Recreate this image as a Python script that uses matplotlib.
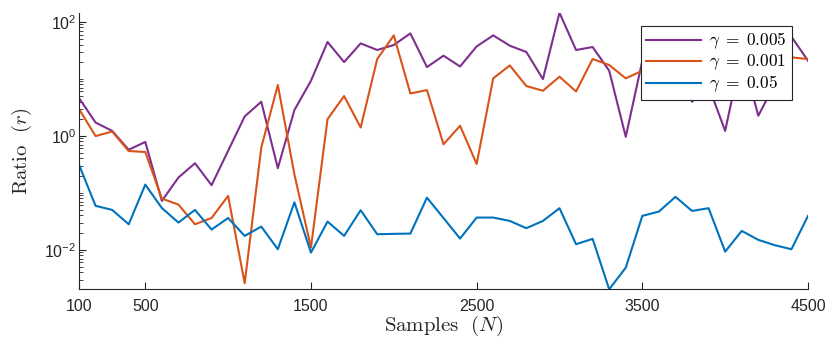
import numpy as np
import matplotlib
matplotlib.use("Agg")
import matplotlib.pyplot as plt
from matplotlib.ticker import FixedLocator, FuncFormatter, NullLocator, NullFormatter

plt.rcParams['mathtext.fontset'] = 'cm'
plt.rcParams['font.family'] = ['Liberation Sans', 'DejaVu Sans']

samples = [100, 200, 300, 400, 500, 600, 700, 800, 900, 1000,
           1100, 1200, 1300, 1400, 1500, 1600, 1700, 1800, 1900, 2000,
           2100, 2200, 2300, 2400, 2500, 2600, 2700, 2800, 2900, 3000,
           3100, 3200, 3300, 3400, 3500, 3600, 3700, 3800, 3900, 4000,
           4100, 4200, 4300, 4400, 4500]

ratio_g0005 = [4.6, 1.71, 1.22, 0.57, 0.78, 0.072, 0.185, 0.33, 0.136, 0.545,
               2.19, 3.96, 0.27, 2.83, 9.26, 44.4, 19.7, 41.9, 32.1, 39.3,
               62.8, 16.1, 25.5, 16.5, 37.1, 58.0, 38.2, 29.6, 9.9, 145.0,
               32.1, 36.2, 13.9, 0.96, 20.8, 30.0, 40.0, 3.96, 7.4, 1.22,
               28.0, 2.25, 8.2, 55.0, 20.8]

ratio_g0001 = [2.95, 0.99, 1.19, 0.54, 0.52, 0.079, 0.062, 0.028, 0.036, 0.088,
               0.00258, 0.62, 7.8, 0.21, 0.0109, 1.96, 4.99, 1.40, 22.3, 58.0,
               5.54, 6.35, 0.71, 1.50, 0.32, 10.2, 17.2, 7.47, 6.18, 10.9,
               6.0, 22.3, 17.5, 10.2, 13.9, 9.0, 4.75, 15.0, 12.0, 20.0,
               18.0, 25.0, 22.0, 23.8, 22.3]

ratio_g005 = [0.31, 0.059, 0.050, 0.028, 0.139, 0.054, 0.030, 0.050, 0.0226, 0.036,
              0.0175, 0.0255, 0.0102, 0.068, 0.0089, 0.0312, 0.0175, 0.0494, 0.0187, 0.019,
              0.0192, 0.082, 0.036, 0.0157, 0.0367, 0.0367, 0.032, 0.0239, 0.032, 0.0536,
              0.0125, 0.0155, 0.00202, 0.00484, 0.0393, 0.0468, 0.0848, 0.048, 0.0536, 0.00926,
              0.0214, 0.0149, 0.012, 0.0102, 0.0393]

labels = [r'$\gamma\;=\;0.005$', r'$\gamma\;=\;0.001$', r'$\gamma\;=\;0.05$']
colors = ['#7E2F8E', '#D95319', '#0072BD']
xticks = [100, 500, 1500, 2500, 3500, 4500]
yticks = [1e-2, 1e0, 1e2]

fig = plt.figure(figsize=(8.30, 3.46), dpi=100)
ax = fig.add_axes([0.0952, 0.1639, 0.9735 - 0.0952, 0.9633 - 0.1639])

for y, lab, c in zip([ratio_g0005, ratio_g0001, ratio_g005], labels, colors):
    ax.plot(samples, y, color=c, lw=1.5, label=lab)

ax.set_yscale('log')
allv = ratio_g0005 + ratio_g0001 + ratio_g005
ax.set_ylim(min(allv), max(allv))
ax.set_xlim(samples[0], samples[-1])

ax.xaxis.set_major_locator(FixedLocator(xticks))
ax.xaxis.set_minor_locator(NullLocator())
ax.yaxis.set_major_locator(FixedLocator(yticks))
minors = []
for e in range(-3, 3):
    for m in range(1, 10):
        v = m * 10.0 ** e
        if not any(abs(v - t) < 1e-12 for t in yticks):
            minors.append(v)
ax.yaxis.set_minor_locator(FixedLocator(minors))
ax.yaxis.set_minor_formatter(NullFormatter())
ax.yaxis.set_major_formatter(FuncFormatter(
    lambda v, p: r'$\mathregular{10^{%d}}$' % int(round(np.log10(v)))))

for s in ['top', 'right']:
    ax.spines[s].set_visible(False)
for s in ['left', 'bottom']:
    ax.spines[s].set_color('#262626')
    ax.spines[s].set_linewidth(0.8)

ax.tick_params(axis='both', which='both', direction='in', color='#262626',
               labelcolor='#262626')
ax.tick_params(axis='both', which='major', length=5, width=0.8)
ax.tick_params(axis='y', which='minor', length=3, width=0.6)
ax.tick_params(axis='x', labelsize=11.5, pad=7)
ax.tick_params(axis='y', labelsize=11.5, pad=2)

ax.set_xlabel(r'$\mathrm{Samples}\ \ (N)$', fontsize=15, color='#262626', labelpad=0)
ax.set_ylabel(r'$\mathrm{Ratio}\ \ (r)$', fontsize=15, color='#262626', labelpad=7)

leg = ax.legend(loc='upper right', bbox_to_anchor=(792 / 830, 1 - 25.7 / 346),
                bbox_transform=fig.transFigure, borderaxespad=0, fancybox=False,
                framealpha=1, edgecolor='#262626', fontsize=12.5,
                handlelength=3.2, handletextpad=0.45, labelspacing=0.08,
                borderpad=0.3)
leg.get_frame().set_linewidth(0.8)

fig.savefig('out.png', dpi=100)
